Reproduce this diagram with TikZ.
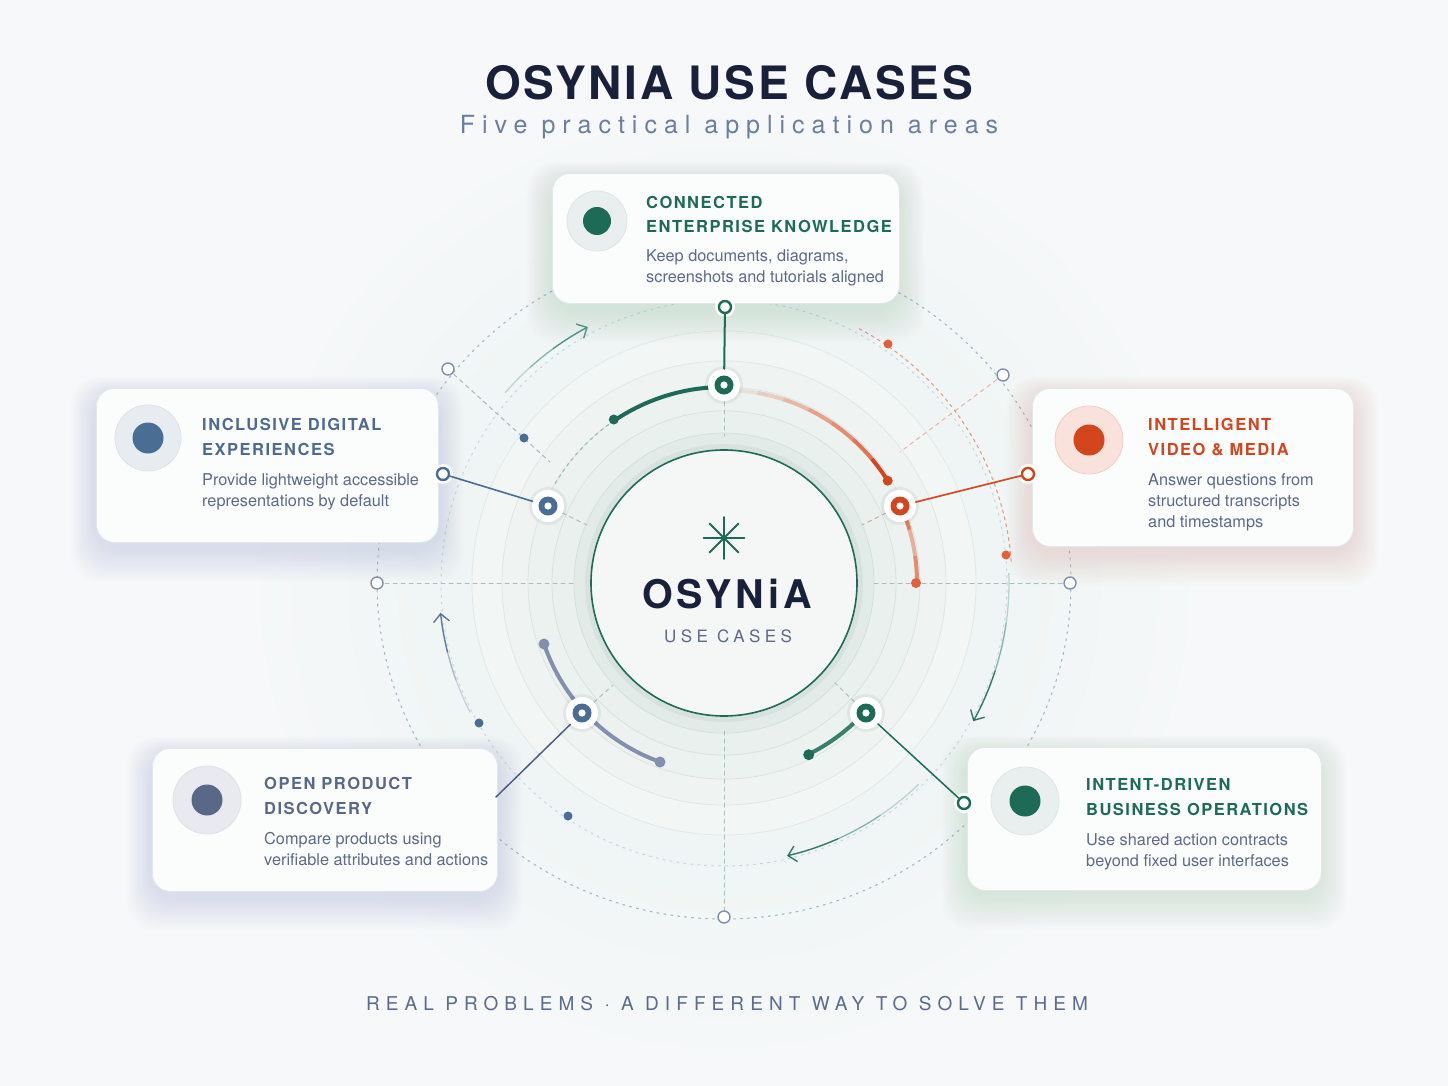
\documentclass[tikz,border=0pt]{standalone}
\usepackage{fontspec}
\setmainfont{TeX Gyre Heros}
\usetikzlibrary{arrows.meta}
\newfontfamily\fTitle[LetterSpace=6]{TeX Gyre Heros}
\newfontfamily\fSub[LetterSpace=28]{TeX Gyre Heros}
\newfontfamily\fCard[LetterSpace=9]{TeX Gyre Heros}
\newfontfamily\fHub[LetterSpace=10]{TeX Gyre Heros}
\newfontfamily\fHubSub[LetterSpace=26]{TeX Gyre Heros}
\newfontfamily\fFoot[LetterSpace=32]{TeX Gyre Heros}
\newfontfamily\fBody{TeX Gyre Heros}

\definecolor{bg}{HTML}{F6F8F9}
\definecolor{navy}{HTML}{18203A}
\definecolor{subc}{HTML}{6B7EA0}
\definecolor{footc}{HTML}{5A6B8E}
\definecolor{bodyc}{HTML}{5C6A88}
\definecolor{gr}{HTML}{1D6B56}
\definecolor{grl}{HTML}{3E8A74}
\definecolor{grarc}{HTML}{3A7F6B}
\definecolor{orc}{HTML}{D4451E}
\definecolor{orl}{HTML}{E2603A}
\definecolor{blc}{HTML}{4A6D94}
\definecolor{blt}{HTML}{4E6B8F}
\definecolor{slc}{HTML}{5A6888}
\definecolor{sla}{HTML}{8290AE}
\definecolor{bll}{HTML}{4A5F86}
\definecolor{ringc}{HTML}{A6B6C4}
\definecolor{pinc}{HTML}{7E91AC}
\definecolor{ring2}{HTML}{C8D3DC}
\definecolor{radc}{HTML}{A9C0BA}
\definecolor{rado}{HTML}{E8B5A5}
\definecolor{radr}{HTML}{C8AAA0}
\definecolor{cardb}{HTML}{E2E8EA}
\definecolor{cardf}{HTML}{FBFCFC}
\definecolor{glowc}{HTML}{E6F1EE}
\definecolor{fA}{HTML}{F2F6F5}\definecolor{dA}{HTML}{E0E9E7}
\definecolor{fB}{HTML}{EFF4F3}\definecolor{dB}{HTML}{DEE7E5}
\definecolor{fC}{HTML}{ECF2F0}\definecolor{dC}{HTML}{DBE5E2}
\definecolor{fD}{HTML}{E9F0EE}\definecolor{dD}{HTML}{D8E2DF}
\definecolor{fE}{HTML}{E2EBE8}\definecolor{dE}{HTML}{D4DFDC}
\definecolor{shE}{HTML}{CDDBD7}
\definecolor{coref}{HTML}{F5F7F7}
\definecolor{grdash}{HTML}{9DBFB5}
\definecolor{gwT}{HTML}{78AF9E}
\definecolor{gwL}{HTML}{8CA0BC}
\definecolor{gwR}{HTML}{E88C73}
\definecolor{gwBL}{HTML}{94A0BE}
\definecolor{gwBR}{HTML}{7DB2A0}
\definecolor{icgf}{HTML}{E8EFEE}\definecolor{icgd}{HTML}{DCE6E4}
\definecolor{icbf}{HTML}{E7ECF1}\definecolor{icbd}{HTML}{DCE3EA}
\definecolor{icof}{HTML}{F8E2DB}\definecolor{icod}{HTML}{F0CDC2}
\definecolor{icsf}{HTML}{E8EAF0}\definecolor{icsd}{HTML}{DDE1E9}

\newcommand\cardglow[5]{%
  \foreach \k in {1,...,14}{%
    \fill[#5, opacity=0.017, rounded corners=28pt]
      ({#1-\k*1.8}, {#2-\k*1.3+7}) rectangle ({#3+\k*1.8}, {#4+\k*2.3+7});
  }%
}
\newcommand\carc[4][]{\draw[#1] ([shift={(#2:#4)}]C) arc[start angle=#2, end angle=#3, radius=#4];}

\tikzset{
  card/.style={draw=cardb, line width=0.8pt, fill=cardf, rounded corners=18pt, inner sep=0pt, anchor=north west},
  icon/.style={circle, inner sep=0pt, line width=0.8pt},
  hub/.style={circle, fill=white, minimum size=32pt, inner sep=0pt},
  pin/.style={circle, fill=white, draw=#1, line width=2.4pt, minimum size=12pt, inner sep=0pt},
  opin/.style={circle, fill=white, draw=pinc, line width=1.4pt, minimum size=12pt, inner sep=0pt},
  ctitle/.style={anchor=base west, inner sep=0pt, font=\fCard\bfseries\fontsize{16.5}{20}\selectfont},
  cbody/.style={anchor=base west, inner sep=0pt, text=bodyc, font=\fBody\fontsize{16.3}{20}\selectfont},
  radial/.style={draw=radc, line width=1pt, dash pattern=on 4pt off 4pt},
  seg/.style={line cap=butt},
  flow/.style={line width=1.4pt, -{Straight Barb[length=8pt,width=16pt]}},
}

\begin{document}
\begin{tikzpicture}[x=1pt, y=-1pt, line cap=round]
\useasboundingbox (0,0) rectangle (1448,1086);
\fill[bg] (0,0) rectangle (1448,1086);
\coordinate (C) at (724,583);
\shade[inner color=glowc, outer color=bg] (C) circle (480);

% concentric rings
\draw[fill=fA, draw=dA, line width=0.8pt] (C) circle (252);
\draw[fill=fB, draw=dB, line width=0.8pt] (C) circle (222);
\draw[fill=fC, draw=dC, line width=0.8pt] (C) circle (196);
\draw[fill=fD, draw=dD, line width=0.8pt] (C) circle (172);
\draw[fill=fE, draw=dE, line width=0.8pt] (C) circle (150);
\fill[shE, opacity=0.5] (C) circle (139);

% outer dashed rings
\draw[ringc, line width=1.1pt, dash pattern=on 2pt off 5pt] (C) ellipse [x radius=347, y radius=336];
\draw[ring2, line width=1pt, dash pattern=on 2pt off 5pt] (C) circle (283);

% radial dashed lines
\draw[radial] (377,583) -- (574,583);
\draw[radial] (874,583) -- (1070,583);
\draw[radial] (724,731) -- (724,917);
\draw[radial] (724,402) -- (724,436);
\draw[radial, draw=ringc] (448,369) -- (550,462);
\draw[radial, draw=rado] (1003,375) -- (900,452);
\draw[radial] (548,506) -- (587,525);
\draw[radial, draw=radr] (900,506) -- (862,525);
\draw[radial] (582,713) -- (613,685);
\draw[radial] (866,713) -- (835,683);

% central disc
\node[circle, minimum size=266pt, fill=coref, draw=gr, line width=1.6pt, inner sep=0pt] (core) at (C) {};

% flow arrows on ring
\carc[grl, seg, line width=1.3pt, opacity=0.3]{-139}{-132}{290}
\carc[grl, seg, line width=1.3pt, opacity=0.6]{-132}{-126}{290}
\carc[grl, flow, opacity=0.9]{-126}{-118}{290}
\carc[grl, seg, line width=1.3pt, opacity=0.3]{-2}{8}{285}
\carc[grl, seg, line width=1.3pt, opacity=0.6]{8}{18}{285}
\carc[gr, flow, opacity=0.9]{18}{29}{285}
\carc[grl, seg, line width=1.3pt, opacity=0.3]{46}{56}{280}
\carc[grl, seg, line width=1.3pt, opacity=0.6]{56}{66}{280}
\carc[gr, flow, opacity=0.9]{66}{77}{280}
\carc[sla, seg, line width=1.3pt, opacity=0.35]{153}{160}{285}
\carc[sla, seg, line width=1.3pt, opacity=0.65]{160}{166}{285}
\carc[blc, flow, opacity=0.9]{166}{174}{285}

% orange dashed arc + ring dots
\carc[orl, line width=1.1pt, opacity=0.6, dash pattern=on 3pt off 4pt]{-62}{-4}{288}
\fill[orl] (888,344) circle (4.5);
\fill[orl] (1006,555) circle (4.5);
\fill[blc] (479,723) circle (4.5);
\fill[blc] (568,816) circle (4.5);
\fill[blc] (524,438) circle (4.5);

% coloured arcs around hub ring
\carc[grdash, line width=1.2pt, dash pattern=on 3pt off 4pt]{-124}{-150}{196}
\carc[gr, line width=4pt]{-90}{-124}{196}
\fill[gr] (613.8,419.5) circle (5);
\foreach \a/\o in {-88/0.12,-80/0.25,-72/0.4,-64/0.55,-56/0.7,-48/0.85}{
  \carc[orl, seg, line width=4pt, opacity=\o]{\a}{\a+8}{193}
}
\carc[orc, seg, line width=4pt]{-40}{-32}{193}
\carc[orl, seg, line width=4pt, opacity=0.8]{-24}{-16}{193}
\carc[orl, seg, line width=4pt, opacity=0.45]{-16}{-8}{193}
\carc[orl, seg, line width=4pt, opacity=0.7]{-8}{0}{193}
\fill[orc] (887.7,480.7) circle (5);
\fill[orl] (916,583) circle (5);
\carc[sla, line width=4pt]{161}{110}{190}
\fill[sla] (544,644) circle (5.5);
\fill[sla] (660,762) circle (5.5);
\carc[grarc, line width=4pt]{42}{64}{191}
\fill[gr] (808.7,754.7) circle (5.5);

% card glows
\cardglow{552}{173}{899}{303}{gwT}
\cardglow{96}{388}{438}{542}{gwL}
\cardglow{1032}{388}{1353}{546}{gwR}
\cardglow{152}{748}{497}{891}{gwBL}
\cardglow{967}{747}{1321}{890}{gwBR}

% cards
\node[card, minimum width=347pt, minimum height=130pt] (cardT) at (552,173) {};
\node[card, minimum width=342pt, minimum height=154pt] (cardL) at (96,388) {};
\node[card, minimum width=321pt, minimum height=158pt] (cardR) at (1032,388) {};
\node[card, minimum width=345pt, minimum height=143pt] (cardBL) at (152,748) {};
\node[card, minimum width=354pt, minimum height=143pt] (cardBR) at (967,747) {};

% card icons
\node[icon, minimum size=60pt, fill=icgf, draw=icgd] (icT) at (597,221) {};
\fill[gr] (icT) circle (14);
\node[icon, minimum size=66pt, fill=icbf, draw=icbd] (icL) at (148,438) {};
\fill[blc] (icL) circle (15.5);
\node[icon, minimum size=68pt, fill=icof, draw=icod] (icR) at (1089,440) {};
\fill[orc] (icR) circle (15.5);
\node[icon, minimum size=68pt, fill=icsf, draw=icsd] (icBL) at (207,800) {};
\fill[slc] (icBL) circle (15.5);
\node[icon, minimum size=68pt, fill=icgf, draw=icgd] (icBR) at (1025,801) {};
\fill[gr] (icBR) circle (15.5);

% card texts
\node[ctitle, text=gr] (tT1) at (646,209) {CONNECTED};
\node[ctitle, text=gr] (tT2) at (646,233) {ENTERPRISE KNOWLEDGE};
\node[cbody] (bT1) at (646,261) {Keep documents, diagrams,};
\node[cbody] (bT2) at (646,282) {screenshots and tutorials aligned};

\node[ctitle, text=blt] (tL1) at (202,430) {INCLUSIVE DIGITAL};
\node[ctitle, text=blt] (tL2) at (202,455) {EXPERIENCES};
\node[cbody] (bL1) at (202,485) {Provide lightweight accessible};
\node[cbody] (bL2) at (202,506) {representations by default};

\node[ctitle, text=orc] (tR1) at (1148,430) {INTELLIGENT};
\node[ctitle, text=orc] (tR2) at (1148,455) {VIDEO \& MEDIA};
\node[cbody] (bR1) at (1148,485) {Answer questions from};
\node[cbody] (bR2) at (1148,506) {structured transcripts};
\node[cbody] (bR3) at (1148,527) {and timestamps};

\node[ctitle, text=slc] (tBL1) at (264,789) {OPEN PRODUCT};
\node[ctitle, text=slc] (tBL2) at (264,814) {DISCOVERY};
\node[cbody] (bBL1) at (264,844) {Compare products using};
\node[cbody] (bBL2) at (264,865) {verifiable attributes and actions};

\node[ctitle, text=gr] (tBR1) at (1086,790) {INTENT-DRIVEN};
\node[ctitle, text=gr] (tBR2) at (1086,815) {BUSINESS OPERATIONS};
\node[cbody] (bBR1) at (1086,845) {Use shared action contracts};
\node[cbody] (bBR2) at (1086,866) {beyond fixed user interfaces};

% hubs
\foreach \p in {(724,385), (548,506), (900,506), (582,713), (866,713)}{
  \fill[black, opacity=0.05] \p circle (19);
}
\node[hub] (hubT) at (724,385) {};
\node[hub] (hubL) at (548,506) {};
\node[hub] (hubR) at (900,506) {};
\node[hub] (hubBL) at (582,713) {};
\node[hub] (hubBR) at (866,713) {};
\foreach \n/\c in {hubT/gr, hubL/blc, hubR/orc, hubBL/blc, hubBR/gr}{
  \fill[\c] (\n) circle (9.5);
  \fill[white] (\n) circle (3.6);
}

% pins at cards
\fill[white] (725,307) circle (10);
\fill[white] (443,474) circle (10);
\fill[white] (1028,474) circle (10);
\fill[white] (964,803) circle (10);
\node[pin=gr] (pinT) at (725,307) {};
\node[pin=blc] (pinL) at (443,474) {};
\node[pin=orc] (pinR) at (1028,474) {};
\node[pin=gr] (pinBR) at (964,803) {};
\coordinate (endBL) at (496,797);

% connectors
\draw[gr, line width=2pt] (pinT) -- (hubT);
\draw[blc, line width=1.6pt] (pinL) -- (hubL);
\draw[orc, line width=1.6pt] (pinR) -- (hubR);
\draw[bll, line width=1.5pt] (endBL) -- (hubBL);
\draw[gr, line width=1.5pt] (hubBR) -- (pinBR);

% outer ring open circles
\node[opin] (o1) at (377,583) {};
\node[opin] (o2) at (1070,583) {};
\node[opin] (o3) at (724,917) {};
\node[opin] (o4) at (448,369) {};
\node[opin] (o5) at (1003,375) {};

% centre content
\draw[gr, line width=1.8pt] (724,517) -- (724,559) (703.5,538) -- (744.5,538)
  (709.5,523.5) -- (738.5,552.5) (709.5,552.5) -- (738.5,523.5);
\node[anchor=base, inner sep=0pt, text=navy] (hubname) at (727,608) {\fHub\bfseries\fontsize{39.5}{44}\selectfont OSYNiA};
\node[anchor=base, inner sep=0pt, text=bodyc] (hubsub) at (728,642) {\fHubSub\fontsize{17}{20}\selectfont USE CASES};

% titles
\node[anchor=base, inner sep=0pt, text=navy] (title) at (729,100) {\fTitle\bfseries\fontsize{46}{50}\selectfont OSYNIA USE CASES};
\node[anchor=base, inner sep=0pt, text=subc] (subtitle) at (729,134) {\fSub\fontsize{25}{28}\selectfont Five practical application areas};
\node[anchor=base, inner sep=0pt, text=footc] (footer) at (727,1010) {\fFoot\fontsize{19}{22}\selectfont REAL PROBLEMS · A DIFFERENT WAY TO SOLVE THEM};
\end{tikzpicture}
\end{document}
